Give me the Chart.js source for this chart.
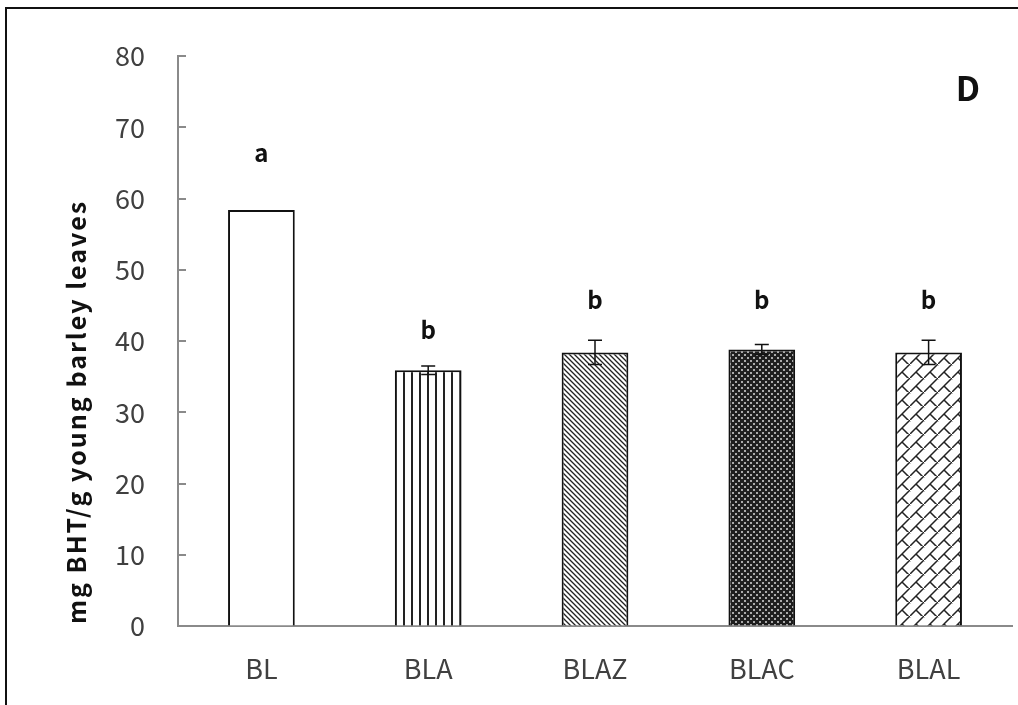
<!DOCTYPE html>
<html>
<head>
<meta charset="utf-8">
<script src="https://cdn.jsdelivr.net/npm/chart.js@4"></script>
<style>
  html, body { margin: 0; background: #fff; }
</style>
</head>
<body>
<canvas id="myChart" width="1018" height="705"></canvas>
<script>
// data
const categories = ['BL', 'BLA', 'BLAZ', 'BLAC', 'BLAL'];
const values = [58.4, 35.9, 38.4, 38.8, 38.4];
const errors = [0, 0.6, 1.7, 0.7, 1.7];
const letters = ['a', 'b', 'b', 'b', 'b'];
const letterAt = [66.4, 41.6, 45.8, 45.8, 45.8];
const yTicks = [0, 10, 20, 30, 40, 50, 60, 70, 80];
const yTitle = 'mg BHT/g young barley leaves';
const panel = 'D';

const fontFamily = '"Noto Sans CJK KR", "Noto Sans", sans-serif';

// fill patterns
function tile(w, h, draw) {
  const c = document.createElement('canvas');
  c.width = w; c.height = h;
  const g = c.getContext('2d');
  g.fillStyle = '#fff';
  g.fillRect(0, 0, w, h);
  draw(g);
  return document.createElement('canvas').getContext('2d').createPattern(c, 'repeat');
}

const patterns = [
  '#fff',
  // vertical lines
  tile(8, 8, g => {
    g.fillStyle = '#222';
    g.fillRect(3, 0, 2, 8);
  }),
  // dense "\" lines
  tile(5, 5, g => {
    g.strokeStyle = '#222';
    g.lineWidth = 1.3;
    g.beginPath();
    g.moveTo(-1, -1); g.lineTo(6, 6);
    g.moveTo(-1, 4); g.lineTo(1, 6);
    g.moveTo(4, -1); g.lineTo(6, 1);
    g.stroke();
  }),
  // dark cross hatch
  tile(6, 6, g => {
    g.fillStyle = '#1e1e1e';
    g.fillRect(0, 0, 6, 6);
    g.fillStyle = '#aaa';
    g.fillRect(0, 0, 2, 2);
    g.fillRect(3, 3, 2, 2);
  }),
  // diagonal brick
  tile(14, 14, g => {
    g.strokeStyle = '#222';
    g.lineWidth = 1.5;
    g.beginPath();
    g.moveTo(-1, 15); g.lineTo(15, -1);
    g.moveTo(6, 8); g.lineTo(13, 15);
    g.moveTo(-1, 1); g.lineTo(0, 2);
    g.stroke();
  })
];

const extras = {
  id: 'extras',
  afterDatasetsDraw(chart) {
    const ctx = chart.ctx;
    const x = chart.scales.x;
    const y = chart.scales.y;
    const area = chart.chartArea;

    // inner tick marks on y axis
    ctx.save();
    ctx.strokeStyle = '#8a8a8a';
    ctx.lineWidth = 2;
    yTicks.forEach(v => {
      const py = Math.round(y.getPixelForValue(v));
      ctx.beginPath();
      ctx.moveTo(area.left, py);
      ctx.lineTo(area.left + 8, py);
      ctx.stroke();
    });

    // error bars
    ctx.strokeStyle = '#111';
    ctx.lineWidth = 1.5;
    values.forEach((v, i) => {
      if (!errors[i]) return;
      const px = x.getPixelForValue(i);
      const top = y.getPixelForValue(v + errors[i]);
      const bot = y.getPixelForValue(v - errors[i]);
      ctx.beginPath();
      ctx.moveTo(px, top); ctx.lineTo(px, bot);
      ctx.moveTo(px - 7, top); ctx.lineTo(px + 7, top);
      ctx.moveTo(px - 7, bot); ctx.lineTo(px + 7, bot);
      ctx.stroke();
    });

    // significance letters
    ctx.fillStyle = '#111';
    ctx.font = 'bold 24px ' + fontFamily;
    ctx.textAlign = 'center';
    ctx.textBaseline = 'middle';
    letters.forEach((t, i) => {
      ctx.fillText(t, x.getPixelForValue(i), y.getPixelForValue(letterAt[i]));
    });

    // panel letter
    ctx.font = 'bold 34px ' + fontFamily;
    ctx.fillText(panel, 968, 88);

    // y axis title
    ctx.translate(76, 412);
    ctx.rotate(-Math.PI / 2);
    ctx.font = 'bold 25px ' + fontFamily;
    ctx.letterSpacing = '2px';
    ctx.fillText(yTitle, 0, 0);
    ctx.restore();

    // outer frame
    ctx.save();
    ctx.strokeStyle = '#111';
    ctx.lineWidth = 2;
    ctx.beginPath();
    ctx.moveTo(6, 705);
    ctx.lineTo(6, 8);
    ctx.lineTo(1018, 8);
    ctx.stroke();
    ctx.restore();
  }
};

const ctx = document.getElementById('myChart').getContext('2d');
const myChart = new Chart(ctx, {
  type: 'bar',
  data: {
    labels: categories,
    datasets: [{
      data: values,
      backgroundColor: patterns,
      borderColor: '#111',
      borderWidth: 2,
      barPercentage: 0.4,
      categoryPercentage: 1
    }]
  },
  options: {
    responsive: false,
    animation: false,
    devicePixelRatio: 1,
    layout: { padding: { top: 56, right: 6, left: 0, bottom: 0 } },
    plugins: {
      legend: { display: false },
      tooltip: { enabled: false }
    },
    scales: {
      x: {
        grid: { display: false },
        border: { color: '#8a8a8a', width: 2 },
        ticks: {
          color: '#404040',
          font: { family: fontFamily, size: 27 },
          padding: 19
        },
        afterFit(scale) { scale.height = 79; }
      },
      y: {
        min: 0,
        max: 80,
        afterBuildTicks(scale) { scale.ticks = yTicks.map(v => ({ value: v })); },
        grid: { drawOnChartArea: false, drawTicks: false },
        border: { color: '#8a8a8a', width: 2 },
        ticks: {
          color: '#404040',
          font: { family: fontFamily, size: 27 },
          padding: 33
        },
        afterFit(scale) { scale.width = 178; }
      }
    }
  },
  plugins: [extras]
});
</script>
</body>
</html>
